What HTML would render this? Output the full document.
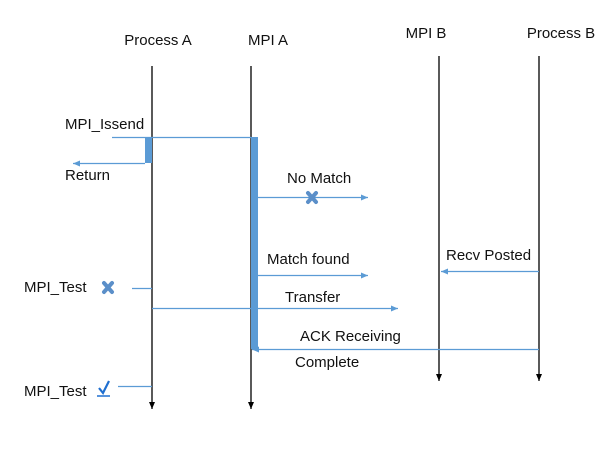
<!DOCTYPE html>
<html><head><style>
body{margin:0;background:#fff}
svg text{font-family:"Liberation Sans",sans-serif;font-size:15px;fill:#111}
</style></head><body>
<svg width="606" height="460" xmlns="http://www.w3.org/2000/svg">
<defs>
<marker id="b" markerWidth="8" markerHeight="8" refX="7" refY="4" orient="auto" markerUnits="userSpaceOnUse"><path d="M0,1 L7,4 L0,7 Z" fill="#5b9bd5"/></marker>
<marker id="k" markerWidth="8" markerHeight="8" refX="7" refY="4" orient="auto" markerUnits="userSpaceOnUse"><path d="M0,1 L7,4 L0,7 Z" fill="#000"/></marker>
</defs>
<text x="158" y="45" text-anchor="middle">Process A</text>
<text x="268" y="45" text-anchor="middle">MPI A</text>
<text x="426" y="38" text-anchor="middle">MPI B</text>
<text x="561" y="38" text-anchor="middle">Process B</text>
<g stroke="#000" stroke-width="1.3">
<line x1="152" y1="66" x2="152" y2="409" marker-end="url(#k)"/>
<line x1="251" y1="66" x2="251" y2="409" marker-end="url(#k)"/>
<line x1="439" y1="56" x2="439" y2="381" marker-end="url(#k)"/>
<line x1="539" y1="56" x2="539" y2="381" marker-end="url(#k)"/>
</g>
<g stroke="#5b9bd5" stroke-width="1.2" fill="none">
<line x1="112" y1="137.5" x2="251" y2="137.5"/>
<line x1="145" y1="163.5" x2="73" y2="163.5" marker-end="url(#b)"/>
<line x1="258" y1="197.5" x2="368" y2="197.5" marker-end="url(#b)"/>
<line x1="258" y1="275.5" x2="368" y2="275.5" marker-end="url(#b)"/>
<line x1="539" y1="271.5" x2="441" y2="271.5" marker-end="url(#b)"/>
<line x1="152" y1="308.5" x2="398" y2="308.5" marker-end="url(#b)"/>
<line x1="539" y1="349.5" x2="252" y2="349.5" marker-end="url(#b)"/>
<line x1="132" y1="288.5" x2="152" y2="288.5"/>
<line x1="118" y1="386.5" x2="152" y2="386.5"/>
</g>
<rect x="145" y="137" width="7" height="26" fill="#5b9bd5"/>
<rect x="251" y="137" width="7" height="212" fill="#5b9bd5"/>
<g stroke="#5b8fc9" stroke-width="4" stroke-linecap="round">
<line x1="308" y1="193" x2="316" y2="202"/><line x1="316" y1="193" x2="308" y2="202"/>
<line x1="104" y1="283" x2="112" y2="292"/><line x1="112" y1="283" x2="104" y2="292"/>
</g>
<path d="M99,388 L103,393 L109,381" stroke="#1f6fd0" stroke-width="2.2" fill="none"/>
<line x1="97" y1="396" x2="110" y2="396" stroke="#1f6fd0" stroke-width="1.5"/>
<text x="65" y="129">MPI_Issend</text>
<text x="65" y="180">Return</text>
<text x="287" y="183">No Match</text>
<text x="267" y="264">Match found</text>
<text x="446" y="260">Recv Posted</text>
<text x="285" y="302">Transfer</text>
<text x="300" y="341">ACK Receiving</text>
<text x="295" y="367">Complete</text>
<text x="24" y="292">MPI_Test</text>
<text x="24" y="396">MPI_Test</text>
</svg>
</body></html>
